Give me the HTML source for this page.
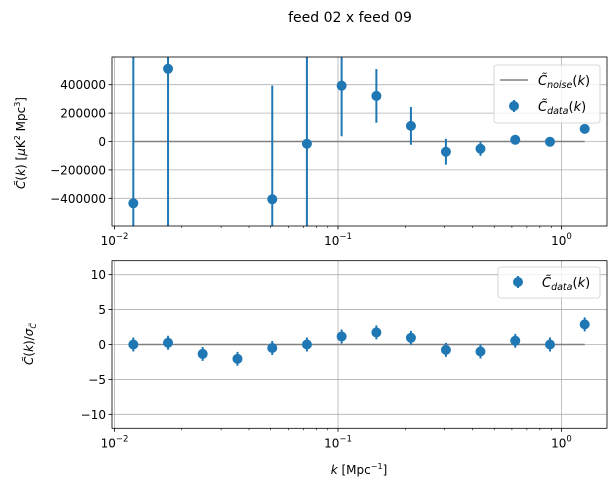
<!DOCTYPE html>
<html><head><meta charset="utf-8"><style>
html,body{margin:0;background:#fff;width:616px;height:493px;overflow:hidden;position:relative;}
svg{display:block;font-family:"DejaVu Sans","Liberation Sans",sans-serif;}
</style></head><body>
<svg id="chart" width="616" height="493" viewBox="0 0 616 493">
<text x="350" y="22" font-size="14" text-anchor="middle">feed 02 x feed 09</text>
</svg>
<script>
const kValues=[0.01214,0.01736,0.0248,0.0355,0.0508,0.0726,0.1038,0.1485,0.212,0.304,0.434,0.621,0.888,1.27];
const cData=[-435000,512000,-3000000,-4000000,-407000,-16000,393000,321000,110000,-72000,-51000,12000,-2000,89000];
const cErr=[1500000,1500000,1000000,1000000,800000,1000000,356000,189000,133000,91000,50000,10000,8000,10000];
const ratio=[0,0.25,-1.35,-2.05,-0.5,0,1.15,1.73,0.96,-0.77,-1.0,0.53,0,2.88];
const ratioErr=[1,1,1,1,1,1,1,1,1,1,1,1,1,1];
const topTicks=[400000,200000,0,-200000,-400000];
const botTicks=[10,5,0,-5,-10];
const xDecades=[0.01,0.1,1];
const xDecadeLabels=["-2","-1","0"];

const NS="http://www.w3.org/2000/svg";
const svg=document.getElementById('chart');
const L=112,R=607;
function xs(k){return 114.5+223.5*Math.log10(k/0.01);}
function mk(tag,attrs,parent){const e=document.createElementNS(NS,tag);for(const a in attrs)e.setAttribute(a,attrs[a]);(parent||svg).appendChild(e);return e;}
const blue="#1f77b4";

function panel(id,T,B,ymin,ymax,vals,errs,yt){
  const ys=v=>B-(v-ymin)/(ymax-ymin)*(B-T);
  const g=mk('g',{});
  
  
  const cp=mk('clipPath',{id:'clip-'+id},g);
  mk('rect',{x:L,y:T,width:R-L,height:B-T},cp);
  xDecades.forEach((d,i)=>{
    const x=xs(d);
    const gl=mk('line',{x1:x,x2:x,y1:T,y2:B,stroke:'#b0b0b0','stroke-width':0.8},g);
    
    
    mk('line',{x1:x,x2:x,y1:B,y2:B+3.5,stroke:'#000','stroke-width':0.8},g);
    const t=mk('text',{x:x,y:B+19,'font-size':12,'text-anchor':'middle'},g);
    
    
    t.textContent='10';
    const s=mk('tspan',{'font-size':8.5,dy:-6},t);s.textContent=(xDecadeLabels[i].startsWith('-')?'\u2212':'')+xDecadeLabels[i].replace('-','');
  });
  for(let e=-3;e<=0;e++)for(let m=2;m<=9;m++){const k=m*Math.pow(10,e);const x=xs(k);if(x<L||x>R)continue;
    mk('line',{x1:x,x2:x,y1:B,y2:B+2,stroke:'#000','stroke-width':0.6},g);}
  yt.forEach(v=>{const y=ys(v);
    const gl=mk('line',{x1:L,x2:R,y1:y,y2:y,stroke:'#b0b0b0','stroke-width':0.8},g);
    
    
    mk('line',{x1:L-3.5,x2:L,y1:y,y2:y,stroke:'#000','stroke-width':0.8},g);
    const t=mk('text',{x:L-6,y:y+4.5,'font-size':12,'text-anchor':'end'},g);
    
    
    t.textContent=(v<0?'\u2212':'')+Math.abs(v);
  });
  const cg=mk('g',{'clip-path':'url(#clip-'+id+')'},g);
  const nl=mk('line',{x1:xs(kValues[0]),x2:xs(kValues[kValues.length-1]),y1:ys(0),y2:ys(0),stroke:'#808080','stroke-width':1.5},cg);
  
  
  kValues.forEach((k,i)=>{const x=xs(k);
    const eb=mk('line',{x1:x,x2:x,y1:ys(vals[i]-errs[i]),y2:ys(vals[i]+errs[i]),stroke:blue,'stroke-width':2},cg);
    
    
    const c=mk('circle',{cx:x,cy:ys(vals[i]),r:5,fill:blue},cg);
    
    
  });
  const fr=mk('rect',{x:L,y:T,width:R-L,height:B-T,fill:'none',stroke:'#000','stroke-width':0.8},g);
  
  
  return g;
}
panel('top',57,226,-595000,595000,cData,cErr,topTicks);
panel('bottom',260.7,428.3,-12,12,ratio,ratioErr,botTicks);

function legend(x,y,w,h,items,name){
  const g=mk('g',{});
  
  
  mk('rect',{x:x,y:y,width:w,height:h,rx:2.5,fill:'#fff','fill-opacity':0.8,stroke:'#ccc','stroke-width':0.8},g);
  items.forEach((it,i)=>{const cy=y+15+i*26;
    if(it.type==='line'){mk('line',{x1:x+6,x2:x+34,y1:cy,y2:cy,stroke:'#808080','stroke-width':1.5},g);}
    else{mk('line',{x1:x+20,x2:x+20,y1:cy-6,y2:cy+6,stroke:blue,'stroke-width':2},g);mk('circle',{cx:x+20,cy:cy,r:5,fill:blue},g);}
    const t=mk('text',{x:x+44,y:cy+5,'font-size':13,'font-style':'italic'},g);
    
    
    t.textContent='C\u0303';
    const s=mk('tspan',{'font-size':9.5,dy:3},t);s.textContent=it.sub;
    const s2=mk('tspan',{dy:-3,'font-style':'normal'},t);s2.textContent='(';
    const s3=mk('tspan',{},t);s3.textContent='k';
    const s4=mk('tspan',{'font-style':'normal'},t);s4.textContent=')';
  });
}
legend(494,65,106,58,[{type:'line',sub:'noise'},{type:'pt',sub:'data'}],'top-legend');
legend(498,267,102,31,[{type:'pt',sub:'data'}],'bottom-legend');
</script>
<svg style="position:absolute;left:0;top:0" width="616" height="493">
<text transform="translate(25,143) rotate(-90)" font-size="12" text-anchor="middle" font-family="DejaVu Sans,sans-serif"><tspan font-style="italic">C̃</tspan>(<tspan font-style="italic">k</tspan>) [<tspan font-style="italic">μ</tspan>K<tspan font-size="8" dy="-5">2</tspan><tspan dy="5"> Mpc</tspan><tspan font-size="8" dy="-5">3</tspan><tspan dy="5">]</tspan></text>
<text transform="translate(33,344) rotate(-90)" font-size="12" text-anchor="middle" font-family="DejaVu Sans,sans-serif"><tspan font-style="italic">C̃</tspan>(<tspan font-style="italic">k</tspan>)/<tspan font-style="italic">σ</tspan><tspan font-size="8" dy="3" font-style="italic">C̃</tspan></text>
<text x="359" y="474" font-size="12" text-anchor="middle" font-family="DejaVu Sans,sans-serif"><tspan font-style="italic">k</tspan> [Mpc<tspan font-size="8" dy="-5">−1</tspan><tspan dy="5">]</tspan></text>
</svg>
</body></html>
